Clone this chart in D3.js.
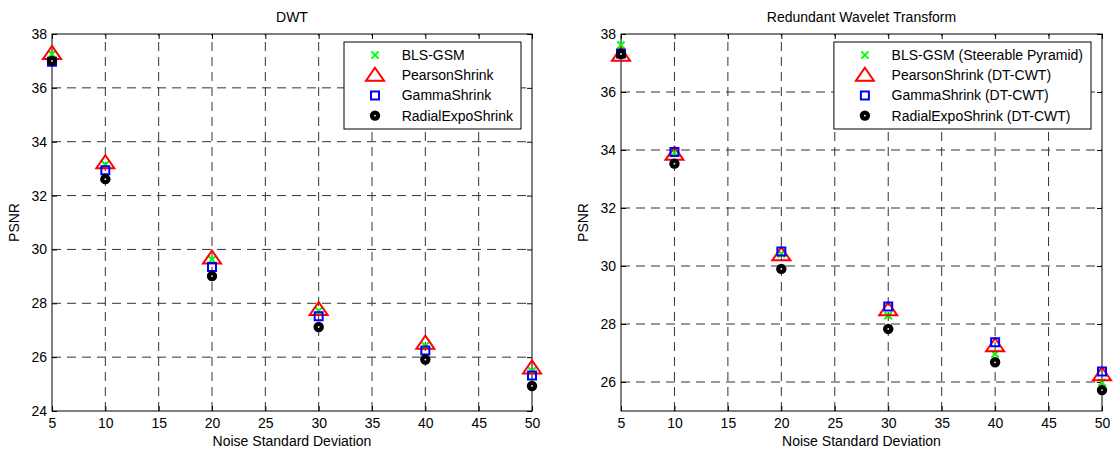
<!DOCTYPE html>
<html>
<head>
<meta charset="utf-8">
<script src="https://cdn.jsdelivr.net/npm/d3@7"></script>
<style>
  html, body { margin: 0; padding: 0; background: #fff; }
  svg { display: block; font-family: Arial, "Liberation Sans", sans-serif; }
</style>
</head>
<body>
<svg id="chart" width="1118" height="453"></svg>
<script>
// ---------- data ----------
const noiseLevels = [5, 10, 20, 30, 40, 50];
const xTicks = [5, 10, 15, 20, 25, 30, 35, 40, 45, 50];

// DWT panel
const dwtTitle = "DWT";
const dwtNames = ["BLS-GSM", "PearsonShrink", "GammaShrink", "RadialExpoShrink"];
const dwtBLS     = [37.25, 33.15, 29.62, 27.72, 26.42, 25.48];
const dwtPearson = [37.28, 33.22, 29.68, 27.77, 26.52, 25.60];
const dwtGamma   = [36.97, 32.94, 29.35, 27.52, 26.25, 25.32];
const dwtRadial  = [37.00, 32.61, 29.01, 27.12, 25.91, 24.93];
const dwtYTicks  = [24, 26, 28, 30, 32, 34, 36, 38];
const dwtYDomain = [24, 38];

// Redundant wavelet transform panel
const rwtTitle = "Redundant Wavelet Transform";
const rwtNames = ["BLS-GSM (Steerable Pyramid)", "PearsonShrink (DT-CWT)", "GammaShrink (DT-CWT)", "RadialExpoShrink (DT-CWT)"];
const rwtBLS     = [37.62, 33.90, 30.42, 28.29, 26.97, 25.99];
const rwtPearson = [37.27, 33.85, 30.39, 28.49, 27.25, 26.25];
const rwtGamma   = [37.33, 33.93, 30.50, 28.60, 27.37, 26.36];
const rwtRadial  = [37.31, 33.53, 29.90, 27.83, 26.68, 25.72];
const rwtYTicks  = [26, 28, 30, 32, 34, 36, 38];
const rwtYDomain = [25, 38];

const xLabel = "Noise Standard Deviation";
const yLabel = "PSNR";

// ---------- drawing ----------
const svg = d3.select("#chart");
const FONT = 14;

function markerPath(kind) {
  if (kind === "x") return "M-3.6,-3.6L3.6,3.6M-3.6,3.6L3.6,-3.6";
  if (kind === "tri") return "M0,-7.5L9,5.5L-9,5.5Z";
  if (kind === "sq") return "M-4,-4H4V4H-4Z";
  return null;
}
const styles = [
  { kind: "x",   color: "#00ff00" },
  { kind: "tri", color: "#ff0000" },
  { kind: "sq",  color: "#0000ff" },
  { kind: "dot", color: "#000000" }
];

function drawMarker(g, kind, color, x, y) {
  if (kind === "dot") {
    g.append("circle").attr("cx", x).attr("cy", y).attr("r", 5.2).attr("fill", "#000");
    g.append("circle").attr("cx", x).attr("cy", y).attr("r", 0.9).attr("fill", "#fff");
  } else {
    g.append("path").attr("transform", `translate(${x},${y})`)
      .attr("d", markerPath(kind)).attr("fill", "none")
      .attr("stroke", color).attr("stroke-width", 2).attr("stroke-linejoin", "miter");
  }
}

function panel(cfg) {
  const { left, right, top, bottom } = cfg;
  const x = d3.scaleLinear().domain([5, 50]).range([left, right]);
  const y = d3.scaleLinear().domain(cfg.yDomain).range([bottom, top]);
  const g = svg.append("g");

  // grid
  const grid = g.append("g").attr("stroke", "#333").attr("stroke-width", 1)
    .attr("stroke-dasharray", "9,6").attr("fill", "none");
  xTicks.filter(t => t > 5 && t < 50).forEach(t => {
    grid.append("line").attr("x1", x(t)).attr("x2", x(t)).attr("y1", bottom).attr("y2", top);
  });
  cfg.yTicks.filter(t => t > cfg.yDomain[0] && t < cfg.yDomain[1]).forEach(t => {
    grid.append("line").attr("x1", left).attr("x2", right).attr("y1", y(t)).attr("y2", y(t));
  });

  // axes
  const ax = (sel) => { sel.select(".domain").remove(); sel.selectAll("line").attr("stroke", "#000"); sel.selectAll("text").attr("font-size", FONT).attr("font-family", "Arial, 'Liberation Sans', sans-serif").attr("fill", "#000"); };
  g.append("g").attr("transform", `translate(0,${bottom})`)
    .call(d3.axisBottom(x).tickValues(xTicks).tickSize(-5).tickPadding(7)).call(ax);
  g.append("g").attr("transform", `translate(0,${top})`)
    .call(d3.axisTop(x).tickValues(xTicks).tickSize(-5).tickFormat("")).call(ax);
  g.append("g").attr("transform", `translate(${left},0)`)
    .call(d3.axisLeft(y).tickValues(cfg.yTicks).tickSize(-5).tickPadding(5)).call(ax);
  g.append("g").attr("transform", `translate(${right},0)`)
    .call(d3.axisRight(y).tickValues(cfg.yTicks).tickSize(-5).tickFormat("")).call(ax);

  g.append("rect").attr("x", left).attr("y", top).attr("width", right - left).attr("height", bottom - top)
    .attr("fill", "none").attr("stroke", "#000").attr("stroke-width", 1);

  // series
  const pts = g.append("g");
  cfg.series.forEach((vals, i) => {
    const s = styles[i];
    vals.forEach((v, j) => drawMarker(pts, s.kind, s.color, x(noiseLevels[j]), y(v)));
  });

  // labels
  g.append("text").attr("x", (left + right) / 2).attr("y", 22).attr("text-anchor", "middle")
    .attr("font-size", FONT).text(cfg.title);
  g.append("text").attr("x", (left + right) / 2).attr("y", 446).attr("text-anchor", "middle")
    .attr("font-size", FONT).text(xLabel);
  g.append("text").attr("transform", `translate(${cfg.ylabelX},${(top + bottom) / 2}) rotate(-90)`)
    .attr("text-anchor", "middle").attr("font-size", FONT).text(yLabel);

  // legend
  const lg = g.append("g");
  const texts = [];
  cfg.names.forEach((n, i) => {
    texts.push(lg.append("text").attr("font-size", FONT).attr("dy", "0.35em").text(n));
  });
  const maxW = d3.max(texts, t => t.node().getComputedTextLength());
  const boxRight = right - 11;
  const boxLeft = boxRight - (maxW + 57.7 + 8);
  const boxTop = 42, boxBottom = 129;
  lg.insert("rect", ":first-child").attr("x", boxLeft).attr("y", boxTop)
    .attr("width", boxRight - boxLeft).attr("height", boxBottom - boxTop)
    .attr("fill", "#fff").attr("stroke", "#000").attr("stroke-width", 1);
  cfg.names.forEach((n, i) => {
    const yy = 55 + i * 20.2;
    texts[i].attr("x", boxLeft + 57.7).attr("y", yy);
    drawMarker(lg, styles[i].kind, styles[i].color, boxLeft + 31, yy);
  });
}

panel({
  left: 52, right: 532, top: 34, bottom: 411,
  yDomain: dwtYDomain, yTicks: dwtYTicks, title: dwtTitle, names: dwtNames,
  series: [dwtBLS, dwtPearson, dwtGamma, dwtRadial], ylabelX: 19
});
panel({
  left: 621, right: 1102, top: 34, bottom: 411,
  yDomain: rwtYDomain, yTicks: rwtYTicks, title: rwtTitle, names: rwtNames,
  series: [rwtBLS, rwtPearson, rwtGamma, rwtRadial], ylabelX: 588
});
</script>
</body>
</html>
